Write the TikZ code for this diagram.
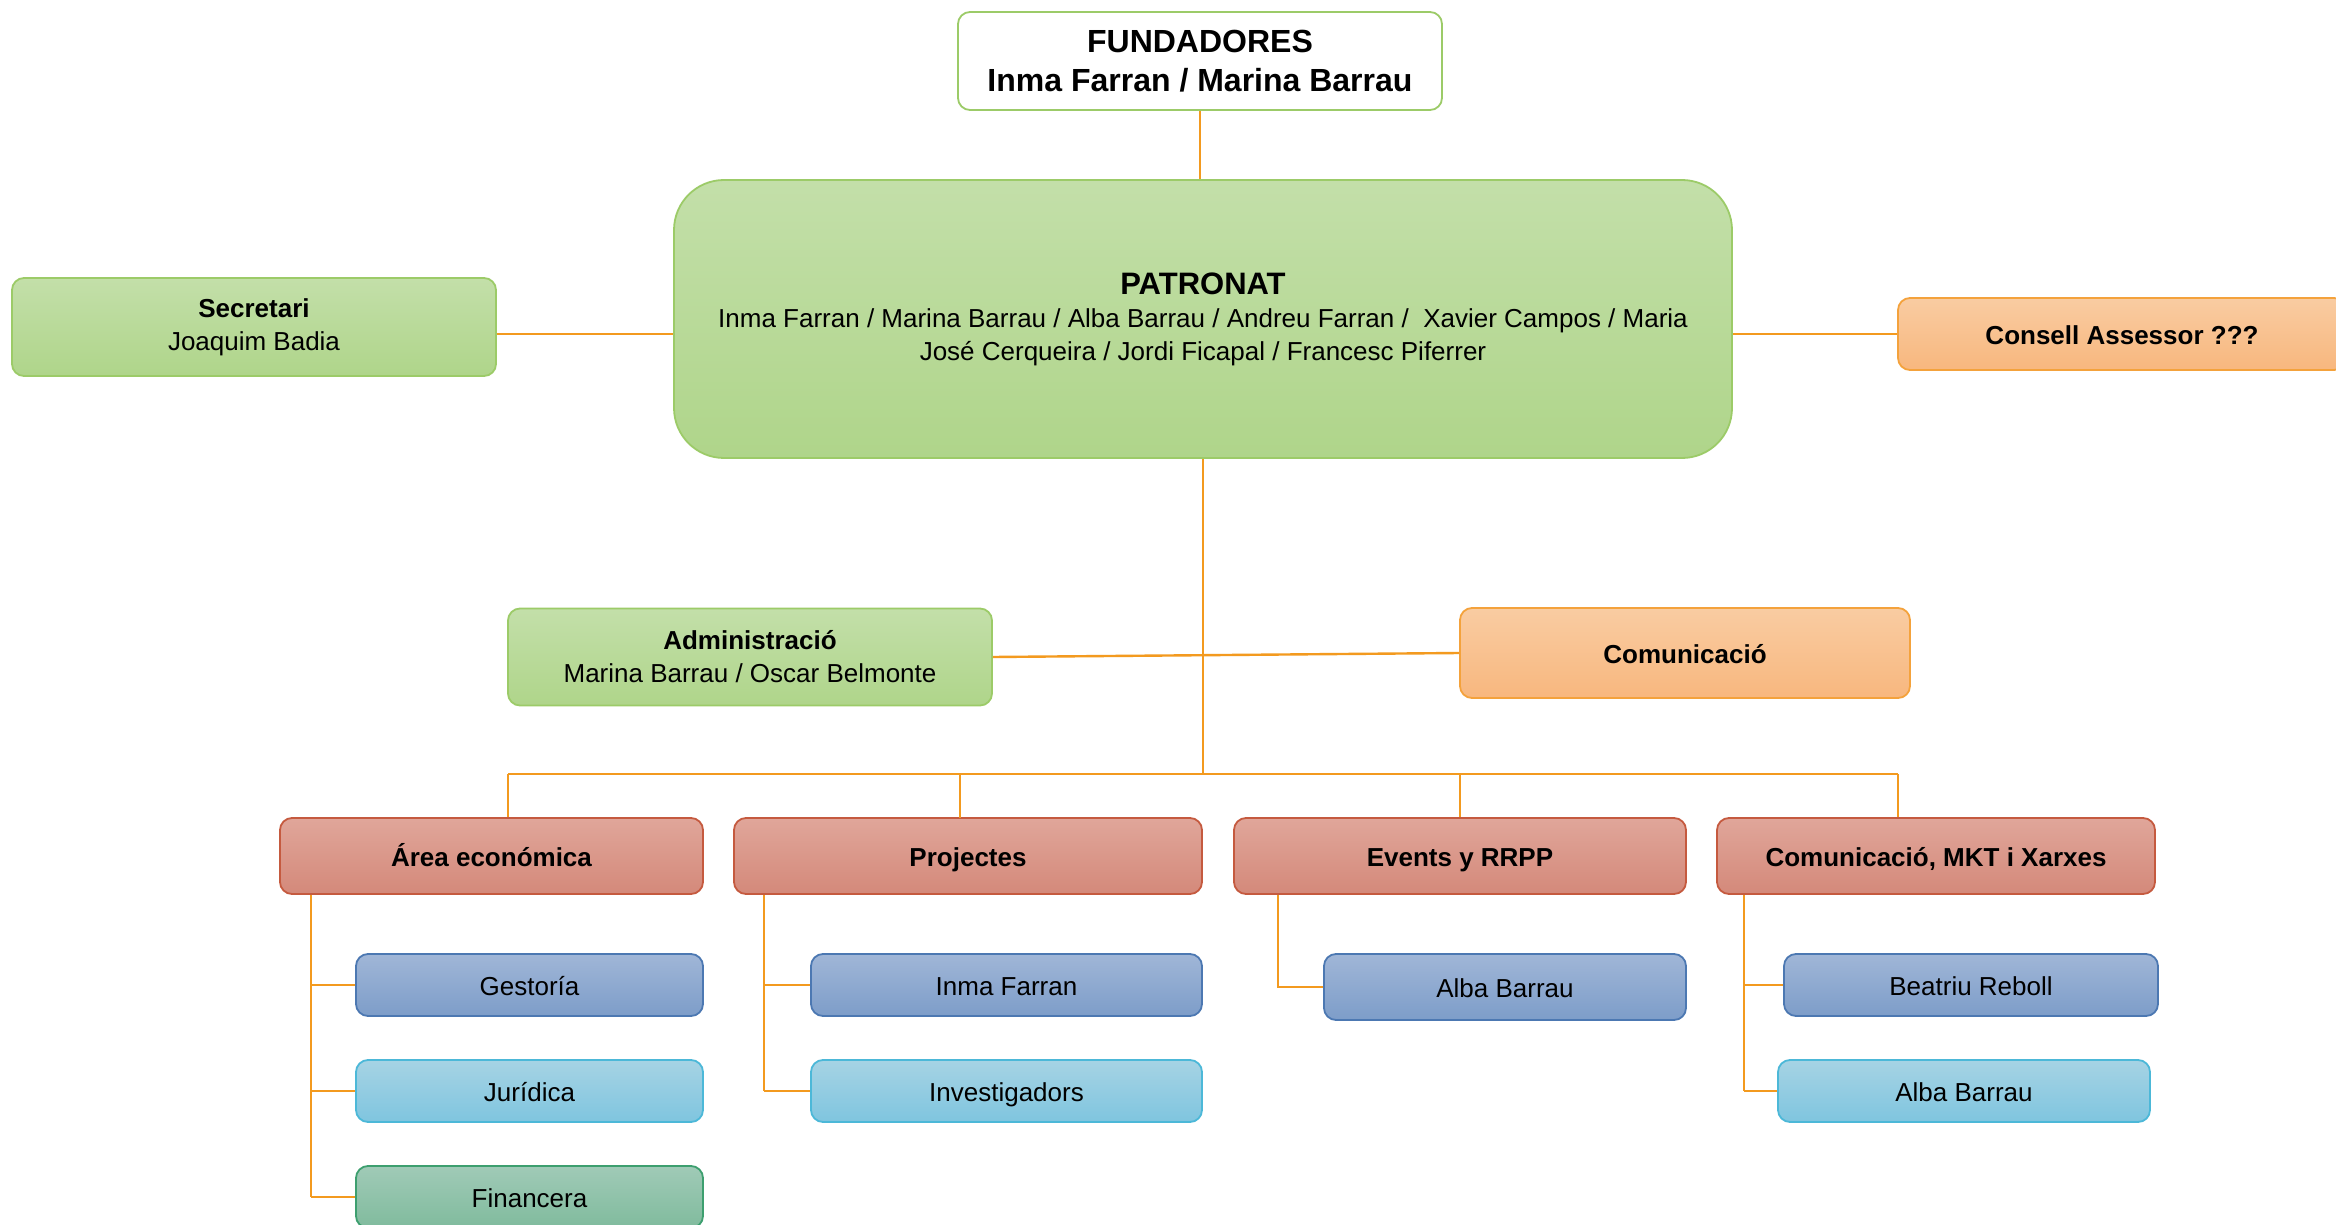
\documentclass[tikz,border=0pt]{standalone}
\usepackage{fontspec}
\setmainfont{Liberation Sans}
\definecolor{conn}{HTML}{F39A1F}
\definecolor{gTop}{HTML}{C3DFA9}\definecolor{gBot}{HTML}{AFD58A}\definecolor{gLine}{HTML}{9CCB68}
\definecolor{oTop}{HTML}{F9CCA2}\definecolor{oBot}{HTML}{F8B77E}\definecolor{oLine}{HTML}{F4A23C}
\definecolor{rTop}{HTML}{E0A69A}\definecolor{rBot}{HTML}{D4897A}\definecolor{rLine}{HTML}{C55A3F}
\definecolor{bTop}{HTML}{A0B6D7}\definecolor{bBot}{HTML}{7D9DC9}\definecolor{bLine}{HTML}{4C78B2}
\definecolor{cTop}{HTML}{A6D3E4}\definecolor{cBot}{HTML}{7FC5DF}\definecolor{cLine}{HTML}{4CB8D8}
\definecolor{tTop}{HTML}{A0CAB7}\definecolor{tBot}{HTML}{80BB9D}\definecolor{tLine}{HTML}{3D9F6F}
\tikzset{
  box/.style={rectangle, rounded corners=6pt, line width=0.9pt, inner sep=0pt, align=center,
    font=\fontsize{13pt}{16.5pt}\selectfont},
  oneline/.style={text height=11.5pt, text depth=1.5pt},
  greenbox/.style={box, draw=gLine, top color=gTop, bottom color=gBot},
  orangebox/.style={box, oneline, draw=oLine, top color=oTop, bottom color=oBot, font=\fontsize{13pt}{16.5pt}\selectfont\bfseries},
  redbox/.style={box, oneline, draw=rLine, top color=rTop, bottom color=rBot, font=\fontsize{13pt}{16.5pt}\selectfont\bfseries,
    minimum height=38pt},
  bluebox/.style={box, oneline, draw=bLine, top color=bTop, bottom color=bBot, minimum height=31pt},
  cyanbox/.style={box, oneline, draw=cLine, top color=cTop, bottom color=cBot, minimum height=31pt},
  tealbox/.style={box, oneline, draw=tLine, top color=tTop, bottom color=tBot, minimum height=31pt},
  link/.style={draw=conn, line width=1.2pt}
}
\begin{document}
\begin{tikzpicture}[x=0.5pt,y=-0.5pt]
\useasboundingbox (0,0) rectangle (2336,1225);
\clip (0,0) rectangle (2336,1225);
\fill[white] (0,0) rectangle (2336,1225);
% nodes
\node[box, draw=gLine, fill=white, minimum width=242pt, minimum height=49pt,
  font=\fontsize{16pt}{19.5pt}\selectfont\bfseries] (fund) at (1200,61) {FUNDADORES\\ Inma Farran / Marina Barrau};
\node[greenbox, rounded corners=25pt, minimum width=529pt, minimum height=139pt] (patr) at (1203,319)
  {{\fontsize{15.5pt}{17pt}\selectfont\bfseries PATRONAT}\\
   Inma Farran / Marina Barrau / Alba Barrau / Andreu Farran / \ Xavier Campos / Maria\\
   José Cerqueira / Jordi Ficapal / Francesc Piferrer};
\node[greenbox, minimum width=242pt, minimum height=49pt] (secr) at (254,327) {\textbf{Secretari}\\ Joaquim Badia};
\node[orangebox, minimum width=224pt, minimum height=36pt] (cons) at (2122,334) {Consell Assessor ???};
\node[greenbox, minimum width=242pt, minimum height=48.5pt] (admin) at (750,657) {\textbf{Administració}\\ Marina Barrau / Oscar Belmonte};
\node[orangebox, minimum width=225pt, minimum height=45pt] (comu) at (1685,653) {Comunicació};
\node[redbox, minimum width=211.5pt] (area) at (491.5,856) {Área económica};
\node[redbox, minimum width=234pt] (proj) at (968,856) {Projectes};
\node[redbox, minimum width=226pt] (events) at (1460,856) {Events y RRPP};
\node[redbox, minimum width=219pt] (cmkt) at (1936,856) {Comunicació, MKT i Xarxes};
\node[bluebox, minimum width=173.5pt] (gest) at (529.5,985) {Gestoría};
\node[cyanbox, minimum width=173.5pt] (jur) at (529.5,1091) {Jurídica};
\node[tealbox, minimum width=173.5pt] (fin) at (529.5,1197) {Financera};
\node[bluebox, minimum width=195.5pt] (inma) at (1006.5,985) {Inma Farran};
\node[cyanbox, minimum width=195.5pt] (inv) at (1006.5,1091) {Investigadors};
\node[bluebox, minimum width=181pt, minimum height=33pt] (alba1) at (1505,987) {Alba Barrau};
\node[bluebox, minimum width=187pt] (beat) at (1971,985) {Beatriu Reboll};
\node[cyanbox, minimum width=186pt] (alba2) at (1964,1091) {Alba Barrau};
% coordinates
\coordinate (bus) at (1203,774);
\coordinate (busL) at (508,774);
\coordinate (busR) at (1898,774);
\coordinate (aV) at (311,1197);
\coordinate (pV) at (764,1091);
\coordinate (eV) at (1278,987);
\coordinate (cV) at (1744,1091);
% connectors
\draw[link] (fund.south) -- (fund.south |- patr.north);
\draw[link] (secr.east |- cons.west) -- (patr.west |- cons.west);
\draw[link] (patr.east |- cons.west) -- (cons.west);
\draw[link] (patr.south) -- (bus);
\draw[link] (admin.east) -- (comu.west);
\draw[link] (busL) -- (busR);
\draw[link] (busL) -- (busL |- area.north);
\draw[link] (960,774) -- (960,818);
\draw[link] (events.north |- bus) -- (events.north);
\draw[link] (busR) -- (busR |- cmkt.north);
\draw[link] (aV |- area.south) -- (aV);
\draw[link] (aV |- gest.west) -- (gest.west);
\draw[link] (aV |- jur.west) -- (jur.west);
\draw[link] (aV) -- (fin.west);
\draw[link] (pV |- proj.south) -- (pV);
\draw[link] (pV |- inma.west) -- (inma.west);
\draw[link] (pV) -- (inv.west);
\draw[link] (eV |- events.south) -- (eV) -- (alba1.west);
\draw[link] (cV |- cmkt.south) -- (cV);
\draw[link] (cV |- beat.west) -- (beat.west);
\draw[link] (cV) -- (alba2.west);
\end{tikzpicture}
\end{document}
